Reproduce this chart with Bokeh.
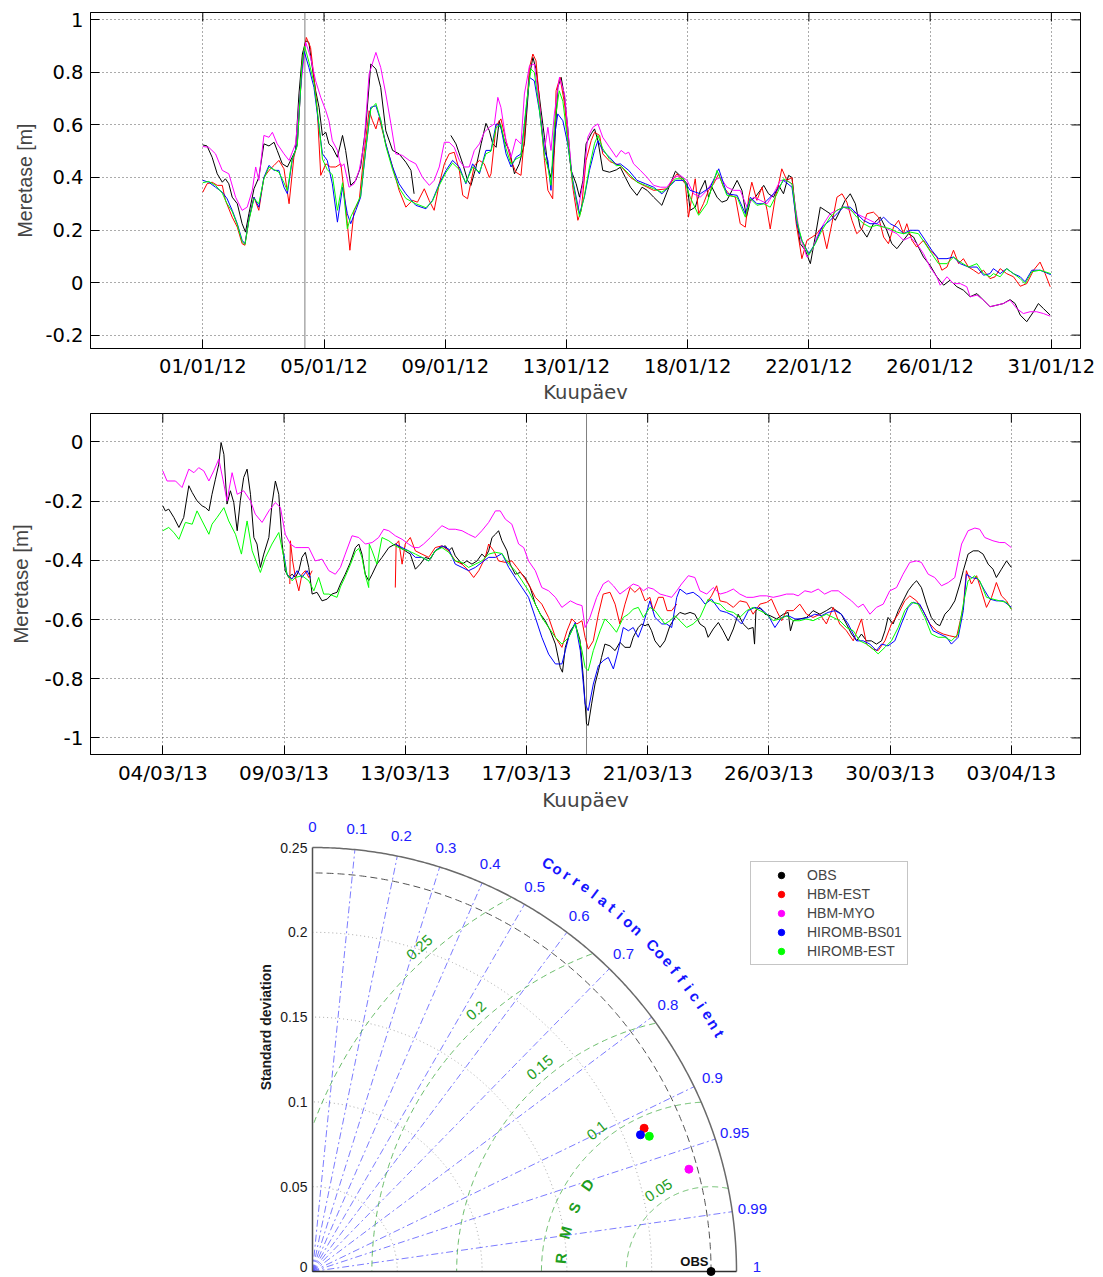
import numpy as np
from bokeh.plotting import figure
from bokeh.models import (Range1d, FixedTicker, CustomJSTickFormatter, Span, Legend, LegendItem)
from bokeh.layouts import column
from bokeh.embed import file_html
from bokeh.resources import INLINE
from bokeh.core.properties import value

NA = None

# ------------------------------------------------------------------ data
SERIES_NAMES = ["OBS", "HBM-EST", "HBM-MYO", "HIROMB-BS01", "HIROMB-EST"]
SERIES_COLORS = ["#000000", "#ff0000", "#ff00ff", "#0000ff", "#00ff00"]

SPAN_DAYS = 30
N_TICK_STEPS = 7
JAN_TICK_LABELS = ["01/01/12", "05/01/12", "09/01/12", "13/01/12",
                   "18/01/12", "22/01/12", "26/01/12", "31/01/12"]
MAR_TICK_LABELS = ["04/03/13", "09/03/13", "13/03/13", "17/03/13",
                   "21/03/13", "26/03/13", "30/03/13", "03/04/13"]
JAN_Y_TICKS = [-0.2, 0.0, 0.2, 0.4, 0.6, 0.8, 1.0]
JAN_Y_LABELS = ["-0.2", "0", "0.2", "0.4", "0.6", "0.8", "1"]
MAR_Y_TICKS = [-1.0, -0.8, -0.6, -0.4, -0.2, 0.0]
MAR_Y_LABELS = ["-1", "-0.8", "-0.6", "-0.4", "-0.2", "0"]
JAN_EVENT_DAY = 3.61
MAR_EVENT_DAY = 14.98

# January 2012 (days since 01/01/12 00:00, sea level m)
OBS_JAN = [(0.00,0.524),(0.15,0.520),(0.33,0.477),(0.51,0.414),(0.69,0.382),(0.80,0.395),(0.92,0.376),(1.04,0.325),(1.22,0.300),(1.39,0.224),(1.51,0.192),(1.63,0.262),(1.81,0.357),(1.98,0.400),(2.16,0.528),(2.34,0.520),(2.52,0.534),(2.63,0.503),(2.81,0.452),(2.99,0.440),(3.16,0.477),(3.28,0.503),(3.40,0.718),(3.52,0.870),(3.64,0.920),(3.75,0.914),(3.87,0.820),(3.99,0.730),(4.11,0.667),(4.23,0.560),(4.35,0.572),(4.46,0.528),(4.58,0.515),(4.76,0.477),(4.94,0.560),(5.05,0.503),(5.23,0.370),(5.41,0.389),(5.58,0.440),(5.76,0.591),(5.94,0.832),(6.12,0.813),(6.29,0.743),(6.47,0.578),(6.71,0.503),(6.94,0.490),(7.18,0.458),(7.36,0.427),(7.47,0.338),
           (8.00,NA),
           (8.77,0.560),(8.95,0.528),(9.19,0.452),(9.36,0.389),(9.48,0.370),(9.66,0.440),(9.84,0.528),(10.01,0.606),(10.13,0.578),(10.25,0.528),(10.37,0.515),(10.48,0.616),(10.66,0.540),(10.84,0.503),(11.02,0.414),(11.19,0.452),(11.37,0.528),(11.55,0.787),(11.67,0.857),(11.78,0.813),(11.96,0.654),(12.08,0.553),(12.20,0.440),(12.31,0.400),(12.43,0.503),(12.55,0.743),(12.67,0.781),(12.79,0.705),(12.90,0.591),(13.02,0.427),(13.20,0.376),(13.32,0.325),(13.44,0.389),(13.55,0.528),(13.73,0.566),(13.85,0.585),(13.97,0.540),(14.14,0.427),(14.38,0.420),(14.62,0.429),
           (14.76,0.439),(14.94,0.400),(15.12,0.363),(15.35,0.332),(15.53,0.363),(15.71,0.351),(15.94,0.325),(16.23,0.294),(16.41,0.344),(16.71,0.424),(16.94,0.400),(17.12,0.376),(17.23,0.275),(17.41,0.287),(17.59,0.351),(17.76,0.389),(17.88,0.325),(18.00,0.363),(18.18,0.325),(18.35,0.306),(18.53,0.313),(18.71,0.351),(18.89,0.389),(19.06,0.351),(19.22,0.249),(19.36,0.313),(19.53,0.325),(19.71,0.351),(19.83,0.370),(20.00,0.338),(20.18,0.325),(20.36,0.370),(20.53,0.338),(20.71,0.408),(20.83,0.400),(20.95,0.281),(21.12,0.148),(21.30,0.123),(21.48,0.072),(21.65,0.173),(21.83,0.287),(22.00,0.275),(22.18,0.262),(22.36,0.237),(22.54,0.275),(22.71,0.313),(22.89,0.338),(23.07,0.300),(23.24,0.211),(23.48,0.173),(23.71,0.224),(23.95,0.249),(24.18,0.199),(24.36,0.148),(24.54,0.129),(24.77,0.161),(24.95,0.186),(25.13,0.173),(25.30,0.135),(25.48,0.097),(25.71,0.066),(25.95,0.022),(26.19,-0.010),(26.42,0.009),(26.66,-0.016),(26.89,-0.029),(27.13,-0.054),(27.37,-0.042),(27.60,-0.067),(27.83,-0.092),(28.07,-0.086),(28.30,-0.080),(28.54,-0.065),(28.72,-0.080),(28.90,-0.124),(29.13,-0.149),(29.37,-0.111),(29.54,-0.080),(29.72,-0.099),(29.96,-0.124)]

HBM_EST_JAN = [(0.00,0.344),(0.15,0.376),(0.33,0.382),(0.51,0.370),(0.69,0.370),(0.80,0.313),(1.04,0.249),(1.22,0.211),(1.39,0.148),(1.49,0.142),(1.63,0.240),(1.81,0.325),(1.98,0.275),(2.16,0.400),(2.34,0.427),(2.52,0.446),(2.69,0.465),(2.87,0.433),(3.05,0.300),(3.22,0.477),(3.34,0.528),(3.52,0.844),(3.66,0.933),(3.81,0.895),(3.93,0.781),(4.05,0.654),(4.17,0.408),(4.35,0.452),(4.52,0.440),(4.70,0.440),(4.88,0.452),(4.99,0.351),(5.11,0.224),(5.20,0.123),(5.35,0.275),(5.53,0.313),(5.70,0.490),(5.88,0.654),(6.00,0.616),(6.12,0.585),(6.23,0.629),(6.35,0.578),(6.53,0.503),(6.71,0.440),(6.94,0.351),(7.18,0.287),(7.41,0.313),(7.59,0.306),(7.83,0.357),(8.00,0.313),(8.18,0.275),(8.36,0.376),(8.54,0.452),(8.71,0.490),(8.89,0.496),(9.07,0.427),(9.19,0.332),(9.36,0.319),(9.60,0.446),(9.78,0.465),(9.95,0.452),(10.13,0.400),(10.19,0.414),(10.37,0.597),(10.54,0.623),(10.72,0.540),(10.90,0.465),(11.07,0.420),(11.25,0.408),(11.37,0.553),(11.55,0.819),(11.67,0.870),(11.78,0.844),(11.96,0.616),(12.08,0.465),(12.20,0.351),(12.37,0.319),(12.49,0.730),(12.63,0.781),(12.79,0.680),(12.90,0.553),(13.08,0.363),(13.26,0.237),(13.38,0.275),(13.55,0.465),(13.73,0.540),(13.85,0.572),(14.03,0.560),(14.14,0.490),(14.40,0.460),
               (14.76,0.446),(15.12,0.400),(15.47,0.376),(15.94,0.351),(16.41,0.357),(16.76,0.414),(17.06,0.376),(17.17,0.249),(17.29,0.325),(17.41,0.395),(17.53,0.262),(17.70,0.300),(17.88,0.351),(18.06,0.376),(18.24,0.414),(18.41,0.363),(18.65,0.332),(18.83,0.325),(19.00,0.224),(19.18,0.211),(19.30,0.325),(19.41,0.382),(19.59,0.313),(19.77,0.363),(19.95,0.275),(20.06,0.204),(20.24,0.325),(20.36,0.376),(20.47,0.433),(20.65,0.389),(20.83,0.400),(20.98,0.224),(21.18,0.091),(21.36,0.161),(21.54,0.173),(21.71,0.186),(21.89,0.211),(22.06,0.129),(22.24,0.224),(22.42,0.325),(22.60,0.338),(22.77,0.306),(22.95,0.237),(23.12,0.186),(23.30,0.204),(23.48,0.262),(23.71,0.268),(23.89,0.249),(24.07,0.173),(24.24,0.148),(24.42,0.211),(24.60,0.237),(24.77,0.186),(24.89,0.224),(25.07,0.161),(25.24,0.135),(25.48,0.161),(25.71,0.123),(25.95,0.097),(26.13,0.047),(26.31,0.059),(26.54,0.123),(26.72,0.072),(26.89,0.091),(27.07,0.059),(27.25,0.047),(27.43,0.034),(27.60,0.047),(27.83,0.015),(28.01,0.022),(28.19,0.053),(28.42,0.034),(28.66,0.022),(28.90,-0.014),(29.13,-0.004),(29.37,0.047),(29.60,0.078),(29.78,0.034),(29.96,-0.016)]

HBM_MYO_JAN = [(0.00,0.518),(0.21,0.515),(0.45,0.490),(0.69,0.427),(0.92,0.414),(1.16,0.325),(1.39,0.275),(1.57,0.287),(1.75,0.351),(1.87,0.440),(1.98,0.389),(2.16,0.560),(2.34,0.553),(2.46,0.572),(2.63,0.528),(2.87,0.490),(3.05,0.465),(3.28,0.528),(3.46,0.743),(3.64,0.914),(3.81,0.857),(3.99,0.768),(4.17,0.705),(4.35,0.654),(4.46,0.616),(4.58,0.540),(4.76,0.503),(4.88,0.440),(4.99,0.452),(5.17,0.363),(5.35,0.376),(5.53,0.427),(5.70,0.528),(5.88,0.794),(6.12,0.876),(6.29,0.819),(6.47,0.718),(6.65,0.604),(6.82,0.490),(7.06,0.484),(7.30,0.465),(7.53,0.452),(7.77,0.400),(8.01,0.370),(8.18,0.389),(8.36,0.440),(8.54,0.534),(8.71,0.534),(8.89,0.515),(9.07,0.465),(9.24,0.440),(9.42,0.440),(9.60,0.503),(9.78,0.528),(9.95,0.572),(10.13,0.591),(10.31,0.604),(10.43,0.705),(10.54,0.667),(10.72,0.540),(10.90,0.477),(11.07,0.547),(11.25,0.528),(11.37,0.718),(11.55,0.825),(11.72,0.832),(11.90,0.680),(12.08,0.503),(12.20,0.591),(12.31,0.503),(12.43,0.642),(12.61,0.781),(12.79,0.718),(12.90,0.591),(13.08,0.376),(13.26,0.275),(13.44,0.376),(13.61,0.553),(13.79,0.591),(13.97,0.604),(14.14,0.553),(14.38,0.515),(14.62,0.477),(14.79,0.503),
               (14.94,0.490),(15.06,0.496),(15.23,0.452),(15.47,0.427),(15.71,0.400),(15.94,0.370),(16.18,0.363),(16.41,0.363),(16.65,0.400),(16.88,0.408),(17.12,0.389),(17.35,0.338),(17.59,0.325),(17.82,0.351),(18.06,0.389),(18.30,0.400),(18.53,0.363),(18.77,0.351),(19.00,0.351),(19.24,0.287),(19.47,0.325),(19.71,0.313),(19.95,0.300),(20.18,0.338),(20.42,0.389),(20.65,0.389),(20.83,0.376),(20.95,0.287),(21.12,0.173),(21.36,0.097),(21.54,0.123),(21.71,0.173),(21.95,0.224),(22.18,0.262),(22.42,0.275),(22.65,0.287),(22.89,0.275),(23.12,0.262),(23.36,0.249),(23.59,0.237),(23.83,0.224),(24.07,0.211),(24.30,0.199),(24.54,0.186),(24.77,0.161),(25.01,0.173),(25.24,0.148),(25.48,0.110),(25.71,0.059),(25.95,0.022),(26.07,-0.010),(26.31,0.022),(26.54,-0.004),(26.78,-0.004),(27.01,-0.016),(27.13,-0.054),(27.37,-0.048),(27.60,-0.067),(27.83,-0.092),(28.07,-0.086),(28.30,-0.080),(28.54,-0.067),(28.78,-0.099),(29.01,-0.118),(29.25,-0.111),(29.48,-0.111),(29.72,-0.118),(29.96,-0.128)]

HIROMB_BS01_JAN = [(0.00,0.389),(0.21,0.382),(0.45,0.363),(0.69,0.344),(0.86,0.319),(1.04,0.275),(1.22,0.224),(1.39,0.161),(1.49,0.148),(1.63,0.240),(1.81,0.325),(1.98,0.287),(2.16,0.400),(2.34,0.446),(2.52,0.427),(2.69,0.427),(2.87,0.363),(2.99,0.338),(3.16,0.465),(3.34,0.528),(3.50,0.806),(3.58,0.882),(3.75,0.819),(3.93,0.743),(4.11,0.591),(4.23,0.490),(4.40,0.465),(4.58,0.376),(4.76,0.230),(4.94,0.363),(5.11,0.262),(5.23,0.224),(5.41,0.275),(5.58,0.325),(5.76,0.503),(5.94,0.667),(6.12,0.673),(6.29,0.616),(6.47,0.528),(6.71,0.440),(6.94,0.376),(7.18,0.338),(7.53,0.294),(7.89,0.281),(8.12,0.313),(8.36,0.376),(8.60,0.427),(8.83,0.465),(9.07,0.440),(9.30,0.376),(9.54,0.452),(9.78,0.414),(10.01,0.503),(10.19,0.503),(10.37,0.604),(10.54,0.591),(10.72,0.490),(10.90,0.440),(11.07,0.477),(11.25,0.490),(11.43,0.654),(11.55,0.781),(11.72,0.768),(11.90,0.654),(12.08,0.503),(12.20,0.465),(12.31,0.351),(12.43,0.553),(12.55,0.642),(12.73,0.616),(12.90,0.528),(13.08,0.389),(13.32,0.262),(13.49,0.325),(13.67,0.427),(13.85,0.503),(13.97,0.540),(14.14,0.503),(14.38,0.477),(14.62,0.449),
                   (14.76,0.452),(15.06,0.427),(15.35,0.389),(15.65,0.376),(15.94,0.363),(16.23,0.338),(16.47,0.363),(16.71,0.389),(17.00,0.389),(17.23,0.351),(17.59,0.338),(17.94,0.363),(18.24,0.433),(18.53,0.338),(18.89,0.332),(19.18,0.262),(19.36,0.325),(19.59,0.300),(19.83,0.300),(20.06,0.325),(20.30,0.351),(20.53,0.389),(20.83,0.363),(21.00,0.224),(21.18,0.161),(21.42,0.110),(21.65,0.148),(21.89,0.211),(22.18,0.237),(22.42,0.262),(22.65,0.287),(22.89,0.287),(23.12,0.262),(23.36,0.237),(23.59,0.224),(23.83,0.224),(24.07,0.249),(24.30,0.224),(24.54,0.211),(24.77,0.186),(25.01,0.199),(25.30,0.199),(25.54,0.161),(25.77,0.123),(26.01,0.091),(26.31,0.091),(26.54,0.097),(26.78,0.072),(27.07,0.059),(27.37,0.059),(27.60,0.028),(27.83,0.034),(27.95,0.053),(28.19,0.034),(28.42,0.053),(28.66,0.034),(28.90,0.022),(29.07,0.003),(29.31,0.047),(29.60,0.047),(29.98,0.030)]

HIROMB_EST_JAN = [(0.00,0.380),(0.21,0.385),(0.45,0.370),(0.69,0.340),(0.86,0.300),(1.04,0.270),(1.22,0.220),(1.39,0.155),(1.49,0.145),(1.63,0.235),(1.81,0.320),(1.98,0.300),(2.16,0.395),(2.34,0.440),(2.52,0.430),(2.69,0.420),(2.87,0.380),(2.99,0.350),(3.16,0.470),(3.34,0.520),(3.50,0.820),(3.60,0.900),(3.75,0.840),(3.93,0.760),(4.11,0.600),(4.23,0.470),(4.40,0.430),(4.58,0.410),(4.76,0.275),(4.94,0.380),(5.11,0.205),(5.23,0.250),(5.41,0.290),(5.58,0.330),(5.76,0.510),(5.94,0.660),(6.12,0.682),(6.29,0.620),(6.47,0.520),(6.71,0.430),(6.94,0.360),(7.18,0.320),(7.53,0.300),(7.89,0.285),(8.12,0.310),(8.36,0.370),(8.60,0.420),(8.83,0.455),(9.07,0.430),(9.30,0.380),(9.54,0.440),(9.78,0.420),(10.01,0.490),(10.19,0.500),(10.37,0.590),(10.54,0.600),(10.72,0.510),(10.90,0.450),(11.07,0.470),(11.25,0.480),(11.43,0.670),(11.60,0.813),(11.72,0.800),(11.90,0.660),(12.08,0.480),(12.20,0.440),(12.31,0.370),(12.43,0.600),(12.60,0.730),(12.73,0.690),(12.90,0.540),(13.08,0.380),(13.32,0.250),(13.49,0.330),(13.67,0.440),(13.85,0.530),(13.97,0.560),(14.14,0.510),(14.38,0.470),(14.62,0.445),
                  (14.76,0.446),(15.06,0.414),(15.35,0.382),(15.65,0.370),(15.94,0.357),(16.23,0.344),(16.47,0.363),(16.71,0.395),(17.00,0.395),(17.23,0.325),(17.53,0.256),(17.82,0.300),(18.18,0.427),(18.53,0.332),(18.89,0.325),(19.18,0.249),(19.36,0.319),(19.59,0.294),(19.83,0.300),(20.06,0.287),(20.30,0.338),(20.53,0.395),(20.83,0.376),(21.00,0.237),(21.18,0.161),(21.42,0.104),(21.65,0.148),(21.89,0.199),(22.18,0.249),(22.42,0.275),(22.65,0.287),(22.89,0.281),(23.12,0.249),(23.36,0.224),(23.59,0.211),(23.83,0.218),(24.07,0.211),(24.30,0.205),(24.54,0.192),(24.77,0.186),(25.01,0.192),(25.30,0.186),(25.54,0.148),(25.77,0.110),(26.01,0.072),(26.31,0.072),(26.54,0.097),(26.78,0.078),(27.07,0.059),(27.37,0.072),(27.60,0.034),(27.83,0.022),(27.95,0.034),(28.19,0.022),(28.42,0.053),(28.66,0.034),(28.90,0.015),(29.07,-0.004),(29.31,0.041),(29.60,0.047),(29.98,0.034)]

# March 2013 (days since the 04/03/13 tick, sea level m)
OBS_MAR = [(0.00,-0.216),(0.09,-0.233),(0.21,-0.227),(0.39,-0.255),(0.57,-0.289),(0.74,-0.255),(0.92,-0.148),(1.04,-0.171),(1.21,-0.199),(1.39,-0.216),(1.51,-0.222),(1.63,-0.233),(1.74,-0.177),(1.86,-0.126),(1.98,-0.075),(2.06,-0.002),(2.16,-0.042),(2.27,-0.210),(2.39,-0.165),(2.51,-0.205),(2.63,-0.300),(2.74,-0.199),(2.86,-0.120),(2.98,-0.092),(3.10,-0.177),(3.22,-0.323),(3.33,-0.345),(3.45,-0.424),(3.57,-0.379),(3.75,-0.323),(3.86,-0.210),(3.98,-0.132),(4.10,-0.177),(4.22,-0.345),(4.33,-0.435),(4.45,-0.458),(4.57,-0.447),(4.69,-0.458),(4.81,-0.435),(4.92,-0.390),(5.04,-0.373),(5.16,-0.424),(5.28,-0.514),(5.45,-0.508),(5.63,-0.537),(5.81,-0.531),(5.98,-0.514),(6.16,-0.508),(6.28,-0.480),(6.45,-0.447),(6.63,-0.407),(6.81,-0.357),(6.93,-0.345),(7.04,-0.379),(7.16,-0.447),(7.28,-0.469),(7.40,-0.447),(7.57,-0.413),(7.75,-0.390),(7.99,-0.357),(8.22,-0.345),(8.40,-0.357),(8.57,-0.368),(8.75,-0.379),(8.93,-0.430),(9.10,-0.413),(9.28,-0.390),(9.46,-0.396),(9.63,-0.368),(9.81,-0.357),(9.99,-0.351),(10.11,-0.368),(10.22,-0.357),(10.34,-0.385),(10.58,-0.413),(10.75,-0.402),(10.93,-0.413),(11.11,-0.402),(11.28,-0.379),(11.40,-0.390),(11.52,-0.368),(11.64,-0.323),(11.76,-0.312),(11.87,-0.300),(11.99,-0.334),(12.17,-0.368),(12.28,-0.413),(12.46,-0.447),(12.64,-0.441),(12.81,-0.458),(12.99,-0.492),(13.17,-0.548),(13.35,-0.582),(13.52,-0.604),(13.70,-0.638),(13.88,-0.683),(14.05,-0.762),(14.13,-0.778),(14.23,-0.694),(14.41,-0.638),(14.58,-0.615),(14.75,-0.670),(14.87,-0.800),
           (14.98,-0.953),(15.04,-0.958),(15.16,-0.885),(15.28,-0.818),(15.40,-0.773),(15.51,-0.728),(15.63,-0.683),(15.81,-0.689),(15.99,-0.705),(16.16,-0.677),(16.34,-0.694),(16.52,-0.694),(16.63,-0.660),(16.81,-0.627),(16.93,-0.615),(17.05,-0.621),(17.16,-0.615),(17.28,-0.638),(17.40,-0.672),(17.58,-0.694),(17.75,-0.672),(17.93,-0.621),(18.11,-0.593),(18.28,-0.576),(18.46,-0.582),(18.64,-0.576),(18.81,-0.582),(18.99,-0.615),(19.17,-0.627),(19.28,-0.660),(19.46,-0.632),(19.64,-0.610),(19.81,-0.638),(19.99,-0.672),(20.17,-0.632),(20.34,-0.582),(20.52,-0.615),(20.70,-0.632),(20.87,-0.627),(20.92,-0.683),(20.97,-0.570),(21.11,-0.559),(21.29,-0.582),(21.47,-0.587),(21.70,-0.598),(21.94,-0.582),(22.11,-0.576),(22.19,-0.638),(22.29,-0.604),(22.52,-0.598),(22.76,-0.593),(22.99,-0.570),(23.23,-0.582),(23.46,-0.570),(23.64,-0.559),(23.82,-0.570),(23.99,-0.582),(24.17,-0.615),(24.35,-0.649),(24.53,-0.672),(24.70,-0.649),(24.88,-0.672),(25.05,-0.672),(25.23,-0.683),(25.41,-0.672),(25.53,-0.638),(25.64,-0.593),(25.82,-0.615),(26.00,-0.570),(26.17,-0.537),(26.35,-0.503),(26.53,-0.480),(26.65,-0.469),(26.82,-0.492),(27.00,-0.548),(27.17,-0.593),(27.35,-0.615),(27.47,-0.621),(27.65,-0.582),(27.82,-0.565),(28.00,-0.537),(28.18,-0.480),(28.30,-0.435),(28.47,-0.379),(28.65,-0.368),(28.83,-0.368),(29.00,-0.379),(29.18,-0.413),(29.35,-0.430),(29.47,-0.458),(29.65,-0.430),(29.83,-0.402),(30.00,-0.424)]

HBM_EST_MAR = [(4.49,-0.480),(4.51,-0.334),(4.59,-0.402),(4.69,-0.458),(4.81,-0.503),(4.92,-0.447),(5.04,-0.435),(5.16,-0.458),(5.28,-0.435),
               (6.50,NA),
               (8.22,-0.492),(8.25,-0.345),(8.34,-0.334),(8.46,-0.413),(8.57,-0.345),(8.75,-0.323),(8.93,-0.368),(9.16,-0.379),(9.40,-0.390),(9.63,-0.357),(9.87,-0.351),(10.11,-0.368),(10.34,-0.402),(10.58,-0.413),(10.81,-0.435),(10.99,-0.458),(11.17,-0.435),(11.40,-0.390),(11.52,-0.345),(11.70,-0.368),(11.87,-0.402),(12.11,-0.407),(12.34,-0.402),(12.52,-0.424),(12.70,-0.447),(12.93,-0.480),(13.17,-0.525),(13.40,-0.548),(13.64,-0.593),(13.88,-0.660),(14.11,-0.694),(14.29,-0.638),(14.46,-0.598),(14.64,-0.615),(14.82,-0.604),
               (14.93,-0.660),(15.04,-0.700),(15.22,-0.672),(15.40,-0.582),(15.57,-0.514),(15.81,-0.508),(15.99,-0.548),(16.16,-0.615),(16.34,-0.548),(16.52,-0.492),(16.69,-0.508),(16.87,-0.492),(17.05,-0.537),(17.22,-0.525),(17.34,-0.570),(17.52,-0.525),(17.69,-0.525),(17.83,-0.570),(17.99,-0.570),(18.17,-0.548),
               (18.70,NA),
               (19.28,-0.537),(19.40,-0.520),(19.58,-0.486),(19.70,-0.537),(19.93,-0.542),(20.17,-0.559),(20.40,-0.537),(20.64,-0.542),(20.87,-0.582),(21.11,-0.548),(21.35,-0.542),(21.52,-0.531),(21.70,-0.570),(21.88,-0.604),(22.05,-0.570),(22.29,-0.570),(22.52,-0.548),(22.76,-0.582),(22.99,-0.593),(23.23,-0.582),(23.46,-0.615),(23.70,-0.559),(23.93,-0.615),(24.17,-0.638),(24.41,-0.672),(24.70,-0.598),(24.88,-0.683),(25.11,-0.700),(25.29,-0.705),(25.53,-0.672),(25.76,-0.615),(26.00,-0.582),(26.23,-0.537),(26.41,-0.520),(26.65,-0.537),(26.88,-0.570),(27.12,-0.615),(27.35,-0.638),(27.59,-0.649),(27.82,-0.655),(28.06,-0.660),(28.30,-0.559),(28.41,-0.435),(28.59,-0.480),(28.77,-0.452),(28.94,-0.503),(29.12,-0.559),(29.30,-0.525),(29.47,-0.475),(29.65,-0.520),(29.83,-0.537),(30.00,-0.565)]

HBM_MYO_MAR = [(0.00,-0.098),(0.15,-0.132),(0.45,-0.132),(0.68,-0.154),(0.92,-0.092),(1.10,-0.104),(1.27,-0.087),(1.45,-0.098),(1.63,-0.132),(1.80,-0.098),(1.98,-0.058),(2.16,-0.143),(2.27,-0.199),(2.45,-0.104),(2.63,-0.177),(2.86,-0.165),(3.10,-0.199),(3.27,-0.244),(3.51,-0.272),(3.75,-0.233),(3.98,-0.205),(4.16,-0.222),(4.33,-0.312),(4.51,-0.345),(4.69,-0.357),(4.92,-0.357),(5.16,-0.357),(5.39,-0.402),(5.63,-0.396),(5.87,-0.435),(6.10,-0.447),(6.28,-0.424),(6.45,-0.379),(6.69,-0.317),(6.93,-0.323),(7.16,-0.345),(7.40,-0.340),(7.63,-0.323),(7.81,-0.295),(7.99,-0.300),(8.22,-0.317),(8.46,-0.329),(8.69,-0.345),(8.87,-0.357),(9.05,-0.357),(9.22,-0.345),(9.46,-0.323),(9.69,-0.300),(9.87,-0.283),(10.11,-0.295),(10.34,-0.295),(10.58,-0.300),(10.81,-0.312),(11.05,-0.323),(11.28,-0.300),(11.52,-0.272),(11.76,-0.233),(11.93,-0.233),(12.11,-0.261),(12.34,-0.278),(12.58,-0.345),(12.76,-0.357),(12.93,-0.402),(13.17,-0.435),(13.40,-0.492),(13.64,-0.503),(13.88,-0.525),(14.11,-0.559),(14.41,-0.537),(14.64,-0.548),(14.82,-0.553),
               (14.93,-0.627),(15.10,-0.593),(15.34,-0.525),(15.57,-0.480),(15.75,-0.469),(15.93,-0.486),(16.16,-0.514),(16.40,-0.497),(16.63,-0.480),(16.81,-0.486),(16.99,-0.503),(17.16,-0.492),(17.34,-0.497),(17.58,-0.514),(17.81,-0.520),(17.99,-0.525),(18.17,-0.503),(18.34,-0.480),(18.58,-0.452),(18.81,-0.458),(18.99,-0.503),(19.23,-0.514),(19.46,-0.492),(19.70,-0.514),(19.93,-0.508),(20.17,-0.497),(20.40,-0.514),(20.64,-0.525),(20.87,-0.525),(21.11,-0.520),(21.35,-0.520),(21.58,-0.525),(21.82,-0.520),(22.05,-0.514),(22.29,-0.514),(22.46,-0.520),(22.70,-0.503),(22.93,-0.508),(23.17,-0.497),(23.40,-0.514),(23.64,-0.503),(23.88,-0.503),(24.11,-0.520),(24.35,-0.537),(24.58,-0.559),(24.76,-0.548),(25.00,-0.582),(25.23,-0.559),(25.47,-0.548),(25.70,-0.503),(25.94,-0.492),(26.17,-0.447),(26.41,-0.407),(26.65,-0.402),(26.82,-0.407),(27.06,-0.447),(27.29,-0.458),(27.53,-0.486),(27.77,-0.475),(28.00,-0.458),(28.24,-0.345),(28.47,-0.300),(28.71,-0.291),(28.88,-0.295),(29.06,-0.323),(29.35,-0.334),(29.59,-0.340),(29.77,-0.340),(30.00,-0.357)]

HIROMB_BS01_MAR = [(4.28,-0.379),(4.39,-0.447),(4.57,-0.463),(4.75,-0.435),(4.92,-0.458),(5.10,-0.435),(5.22,-0.458),
                   (6.50,NA),
                   (8.22,-0.345),(8.46,-0.357),(8.69,-0.368),(8.93,-0.390),(9.16,-0.390),(9.40,-0.402),(9.63,-0.368),(9.87,-0.351),(10.11,-0.362),(10.34,-0.413),(10.58,-0.424),(10.81,-0.435),(11.05,-0.424),(11.28,-0.407),(11.52,-0.390),(11.76,-0.390),(11.99,-0.377),(12.23,-0.424),(12.46,-0.458),(12.70,-0.492),(12.93,-0.525),(13.17,-0.593),(13.40,-0.660),(13.64,-0.717),(13.88,-0.750),(14.11,-0.750),(14.35,-0.660),(14.58,-0.610),(14.76,-0.705),(14.87,-0.820),
                   (14.93,-0.885),(15.04,-0.908),(15.22,-0.818),(15.40,-0.756),(15.57,-0.739),(15.75,-0.728),(15.93,-0.767),(16.10,-0.705),(16.28,-0.627),(16.46,-0.638),(16.63,-0.627),(16.81,-0.660),(16.99,-0.615),(17.22,-0.537),(17.40,-0.593),(17.64,-0.615),(17.81,-0.615),(17.99,-0.627),(18.17,-0.525),(18.28,-0.497),(18.52,-0.514),(18.75,-0.508),(18.99,-0.525),(19.17,-0.548),(19.40,-0.531),(19.70,-0.570),(19.93,-0.576),(20.17,-0.587),(20.46,-0.615),(20.70,-0.570),(20.93,-0.559),(21.17,-0.565),(21.41,-0.587),(21.64,-0.627),(21.88,-0.593),(22.11,-0.587),(22.35,-0.598),(22.58,-0.598),(22.82,-0.593),(23.05,-0.582),(23.29,-0.587),(23.52,-0.576),(23.76,-0.570),(23.99,-0.582),(24.23,-0.615),(24.53,-0.672),(24.76,-0.672),(25.00,-0.683),(25.23,-0.705),(25.41,-0.683),(25.64,-0.689),(25.88,-0.672),(26.11,-0.615),(26.35,-0.559),(26.53,-0.542),(26.76,-0.548),(27.00,-0.593),(27.23,-0.638),(27.47,-0.649),(27.71,-0.660),(27.88,-0.683),(28.12,-0.660),(28.30,-0.570),(28.41,-0.447),(28.59,-0.458),(28.83,-0.463),(29.06,-0.503),(29.24,-0.531),(29.47,-0.537),(29.71,-0.537),(30.00,-0.559)]

HIROMB_EST_MAR = [(0.00,-0.300),(0.21,-0.289),(0.39,-0.306),(0.57,-0.329),(0.80,-0.272),(1.04,-0.278),(1.21,-0.233),(1.39,-0.267),(1.63,-0.312),(1.74,-0.278),(1.92,-0.255),(2.16,-0.222),(2.33,-0.267),(2.57,-0.312),(2.78,-0.379),(2.98,-0.267),(3.16,-0.368),(3.45,-0.441),(3.63,-0.390),(3.86,-0.345),(4.10,-0.306),(4.28,-0.390),(4.39,-0.447),(4.57,-0.469),(4.69,-0.458),(4.92,-0.452),(5.16,-0.469),(5.34,-0.503),(5.51,-0.458),(5.69,-0.514),(5.87,-0.514),(6.16,-0.525),(6.28,-0.490),(6.45,-0.455),(6.63,-0.415),(6.81,-0.370),(6.93,-0.360),(7.04,-0.390),(7.16,-0.450),(7.28,-0.492),(7.30,-0.345),(7.40,-0.368),(7.57,-0.413),(7.75,-0.323),(7.99,-0.334),(8.22,-0.351),(8.46,-0.362),(8.69,-0.368),(8.93,-0.379),(9.16,-0.390),(9.40,-0.402),(9.63,-0.368),(9.87,-0.357),(10.11,-0.373),(10.34,-0.402),(10.58,-0.407),(10.81,-0.424),(11.05,-0.413),(11.28,-0.402),(11.52,-0.379),(11.76,-0.373),(11.99,-0.377),(12.23,-0.413),(12.46,-0.435),(12.70,-0.469),(12.93,-0.503),(13.17,-0.548),(13.40,-0.593),(13.64,-0.627),(13.88,-0.660),(14.11,-0.683),(14.35,-0.660),(14.58,-0.615),(14.82,-0.705),
                  (14.93,-0.762),(15.04,-0.773),(15.22,-0.705),(15.46,-0.638),(15.63,-0.598),(15.81,-0.615),(16.04,-0.643),(16.28,-0.593),(16.46,-0.582),(16.63,-0.565),(16.81,-0.559),(16.99,-0.593),(17.22,-0.559),(17.40,-0.570),(17.58,-0.593),(17.75,-0.615),(17.93,-0.604),(18.11,-0.587),(18.28,-0.604),(18.52,-0.627),(18.75,-0.615),(18.99,-0.593),(19.28,-0.531),(19.46,-0.542),(19.70,-0.548),(19.93,-0.570),(20.17,-0.576),(20.40,-0.593),(20.64,-0.570),(20.87,-0.559),(21.11,-0.570),(21.35,-0.582),(21.58,-0.604),(21.82,-0.598),(22.05,-0.587),(22.29,-0.604),(22.52,-0.604),(22.76,-0.598),(22.99,-0.604),(23.23,-0.593),(23.46,-0.582),(23.70,-0.593),(23.93,-0.604),(24.17,-0.627),(24.41,-0.638),(24.64,-0.672),(24.88,-0.683),(25.11,-0.700),(25.29,-0.716),(25.53,-0.694),(25.76,-0.672),(26.00,-0.627),(26.23,-0.570),(26.47,-0.542),(26.70,-0.548),(26.94,-0.593),(27.17,-0.649),(27.41,-0.660),(27.65,-0.660),(27.88,-0.672),(28.12,-0.649),(28.30,-0.548),(28.47,-0.469),(28.71,-0.452),(28.88,-0.469),(29.12,-0.525),(29.35,-0.531),(29.59,-0.537),(29.83,-0.542),(30.00,-0.565)]

JAN_SERIES = [OBS_JAN, HBM_EST_JAN, HBM_MYO_JAN, HIROMB_BS01_JAN, HIROMB_EST_JAN]
MAR_SERIES = [OBS_MAR, HBM_EST_MAR, HBM_MYO_MAR, HIROMB_BS01_MAR, HIROMB_EST_MAR]

# Taylor diagram statistics
TAYLOR_STD = [0.235, 0.213, 0.230, 0.2095, 0.214]
TAYLOR_CORR = [1.0, 0.918, 0.965, 0.923, 0.928]
STD_MAX = 0.25
STD_TICKS = [0.0, 0.05, 0.10, 0.15, 0.20, 0.25]
STD_TICK_LABELS = ["0", "0.05", "0.1", "0.15", "0.2", "0.25"]
STD_GRID = [0.05, 0.10, 0.15, 0.20]
CORR_TICKS = [0.0, 0.1, 0.2, 0.3, 0.4, 0.5, 0.6, 0.7, 0.8, 0.9, 0.95, 0.99, 1.0]
CORR_TICK_LABELS = ["0", "0.1", "0.2", "0.3", "0.4", "0.5", "0.6", "0.7", "0.8",
                    "0.9", "0.95", "0.99", "1"]
RMS_LEVELS = [0.05, 0.10, 0.15, 0.20, 0.25]
RMS_LABELS = ["0.05", "0.1", "0.15", "0.2", "0.25"]

# ------------------------------------------------------------------ layout constants
FRAME_LEFT, FRAME_W, RIGHT_PAD = 90, 990, 23
TICK_LEN = 9


def split(series):
    a = np.array(series, dtype=float)
    return a[:, 0], a[:, 1]


def make_ts(fh, bt, bb, xr, yr, xlabels, yticks, ylabels,
            tick_fs, ylab_fs, ylab_standoff, series, event_day):
    p = figure(frame_width=FRAME_W, frame_height=fh, min_border_left=FRAME_LEFT,
               min_border_right=RIGHT_PAD, min_border_top=bt, min_border_bottom=bb,
               x_range=Range1d(*xr), y_range=Range1d(*yr),
               output_backend="svg", toolbar_location=None)
    xticks = [i * SPAN_DAYS / N_TICK_STEPS for i in range(N_TICK_STEPS + 1)]
    xt = FixedTicker(ticks=xticks)
    yt = FixedTicker(ticks=yticks)
    xa = p.xaxis[0]
    ya = p.yaxis[0]
    xa.ticker = xt
    ya.ticker = yt
    xa.formatter = CustomJSTickFormatter(args=dict(labels=xlabels), code="return labels[index];")
    ya.formatter = CustomJSTickFormatter(args=dict(labels=ylabels), code="return labels[index];")
    p.xgrid[0].ticker = xt
    p.ygrid[0].ticker = yt
    for ax in (xa, ya):
        ax.major_tick_in = TICK_LEN
        ax.major_tick_out = 0
        ax.minor_tick_line_color = None
        ax.axis_line_color = "#000000"
        ax.major_tick_line_color = "#000000"
        ax.major_label_text_font = "DejaVu Sans"
        ax.major_label_text_font_size = tick_fs
        ax.major_label_text_color = "#000000"
    xa.major_label_standoff = 6
    ya.major_label_standoff = 7
    xa.axis_label = "Kuupäev"
    xa.axis_label_text_font = "DejaVu Sans"
    xa.axis_label_text_font_size = tick_fs
    xa.axis_label_text_font_style = "normal"
    xa.axis_label_standoff = 0
    ya.axis_label = "Meretase [m]"
    ya.axis_label_text_font = "Liberation Sans"
    ya.axis_label_text_font_size = ylab_fs
    ya.axis_label_text_font_style = "normal"
    ya.axis_label_standoff = ylab_standoff
    p.grid.grid_line_color = "#3a3a3a"
    p.grid.grid_line_dash = "1 3"
    p.grid.grid_line_alpha = 0.85
    p.outline_line_color = "#000000"
    # inward ticks on the top and right sides of the box
    dx = TICK_LEN * (xr[1] - xr[0]) / FRAME_W
    dy = TICK_LEN * (yr[1] - yr[0]) / fh
    p.segment(x0=xticks, y0=[yr[1]] * len(xticks), x1=xticks, y1=[yr[1] - dy] * len(xticks),
              line_color="#000000", line_width=1)
    p.segment(x0=[xr[1]] * len(yticks), y0=yticks, x1=[xr[1] - dx] * len(yticks), y1=yticks,
              line_color="#000000", line_width=1)
    p.add_layout(Span(location=event_day, dimension="height", line_color="#7f7f7f",
                      line_width=1, level="underlay"))
    for s, c in zip(series, SERIES_COLORS):
        t, v = split(s)
        p.line(t, v, line_color=c, line_width=1)
    return p


# panel 1: frame 12..348 ; panel 2: frame 413..754
p1 = make_ts(336, 12, 60, (-3.97, 31.03), (-0.251, 1.028),
             JAN_TICK_LABELS, JAN_Y_TICKS, JAN_Y_LABELS,
             "19.5px", "19.5px", 6, JAN_SERIES, JAN_EVENT_DAY)
p2 = make_ts(341, 5, 61, (-2.556, 32.444), (-1.056, 0.096),
             MAR_TICK_LABELS, MAR_Y_TICKS, MAR_Y_LABELS,
             "20px", "20.5px", 9, MAR_SERIES, MAR_EVENT_DAY)

# ------------------------------------------------------------------ Taylor diagram
H3 = 1277 - (12 + 336 + 60) - (5 + 341 + 61)
K = 1696.0                 # px per std unit
OX = 222.0                 # origin, px from frame left
OY = 456.0                 # origin, px from frame top
x0 = -OX / K
y0 = -(H3 - OY) / K
p3 = figure(frame_width=FRAME_W, frame_height=H3, min_border_left=FRAME_LEFT,
            min_border_right=RIGHT_PAD, min_border_top=0, min_border_bottom=0,
            x_range=Range1d(x0, x0 + FRAME_W / K), y_range=Range1d(y0, y0 + H3 / K),
            x_axis_location=None, y_axis_location=None,
            output_backend="svg", toolbar_location=None)
p3.grid.visible = False
p3.outline_line_color = None

FONT = value("Liberation Sans")
th = np.linspace(0, np.pi / 2, 300)

for r in STD_GRID:
    p3.line(r * np.cos(th), r * np.sin(th), line_color="#a8a8a8", line_dash="1 3", line_width=1)

for c in CORR_TICKS[1:-1]:
    a = np.arccos(c)
    p3.line([0, STD_MAX * np.cos(a)], [0, STD_MAX * np.sin(a)],
            line_color="#5050ff", line_alpha=0.75, line_dash="7 3 2 3", line_width=1)

r_obs = TAYLOR_STD[0]
ph = np.linspace(0, np.pi, 600)
for rr in RMS_LEVELS:
    xs = r_obs + rr * np.cos(ph)
    ys = rr * np.sin(ph)
    bad = (xs < 0) | (xs ** 2 + ys ** 2 > STD_MAX ** 2)
    xs[bad] = np.nan
    ys[bad] = np.nan
    p3.line(xs, ys, line_color="#4caf4c", line_alpha=0.85, line_dash="6 4", line_width=1)

p3.line(r_obs * np.cos(th), r_obs * np.sin(th), line_color="#505050", line_dash="7 4", line_width=1)

p3.line(STD_MAX * np.cos(th), STD_MAX * np.sin(th), line_color="#6a6a6a", line_width=1.5)
p3.line([0, 0], [0, STD_MAX], line_color="#505050", line_width=1.5)
p3.line([0, STD_MAX], [0, 0], line_color="#303030", line_width=1.5)

# labels sitting on the bottom edge are nudged up so they stay inside the picture
std_nudge = [-5 if t == 0 else 0 for t in STD_TICKS]
p3.text(x=[-0.003] * len(STD_TICKS), y=STD_TICKS, text=STD_TICK_LABELS, y_offset=std_nudge,
        text_font=FONT, text_font_size="14px", text_color="#1a1a1a",
        text_align="right", text_baseline="middle")
p3.text(x=[-0.0272], y=[STD_MAX * 0.576], text=["Standard deviation"], angle=[np.pi / 2],
        text_font=FONT, text_font_size="14px", text_font_style="bold", text_color="#1a1a1a",
        text_align="center", text_baseline="middle")

r_lab = 0.262
ca = np.arccos(np.array(CORR_TICKS))
corr_nudge = [-5 if c == 1.0 else 0 for c in CORR_TICKS]
p3.text(x=list(r_lab * np.cos(ca)), y=list(r_lab * np.sin(ca)), text=CORR_TICK_LABELS,
        y_offset=corr_nudge, text_font=FONT, text_font_size="15px", text_color="#2020ff",
        text_align="center", text_baseline="middle")

title = "Correlation Coefficient"
angs = np.radians(np.linspace(60, 30.3, len(title)))
p3.text(x=list(0.278 * np.cos(angs)), y=list(0.278 * np.sin(angs)), text=list(title),
        angle=list(angs - np.pi / 2), text_font=FONT, text_font_size="15px",
        text_font_style="bold", text_color="#1515ff",
        text_align="center", text_baseline="middle")

lab_ang = np.radians([123, 129, 130, 132, 132])
lr = np.array(RMS_LEVELS) + 0.007
p3.text(x=list(r_obs + lr * np.cos(lab_ang)), y=list(lr * np.sin(lab_ang)), text=RMS_LABELS,
        angle=list(lab_ang - np.pi / 2), text_font=FONT, text_font_size="15px",
        text_color="#1e9e1e", text_align="center", text_baseline="middle")
rm_ang = np.radians([175, 165, 155, 145])
p3.text(x=list(r_obs + 0.089 * np.cos(rm_ang)), y=list(0.089 * np.sin(rm_ang)),
        text=["R", "M", "S", "D"], angle=list(rm_ang - np.pi / 2), text_font=FONT,
        text_font_size="15px", text_font_style="bold", text_color="#1e9e1e",
        text_align="center", text_baseline="middle")

items = []
for name, s, c, col in zip(SERIES_NAMES, TAYLOR_STD, TAYLOR_CORR, SERIES_COLORS):
    px = s * c
    py = s * np.sqrt(max(0.0, 1 - c * c))
    r = p3.scatter([px], [py], size=8, fill_color=col, line_color=col, marker="circle")
    items.append(LegendItem(label=name, renderers=[r]))

p3.text(x=[TAYLOR_STD[0] - 0.0015], y=[0.0015], text=["OBS"], text_font=FONT,
        text_font_size="13px", text_font_style="bold", text_color="#111111",
        text_align="right", text_baseline="bottom")

# legend box: left edge 660 px into the frame, bottom edge 312 px above the frame bottom
legend = Legend(items=items, location=(660, 312), border_line_color="#8c8c8c",
                border_line_width=1, background_fill_color="white", background_fill_alpha=1,
                label_text_font="Liberation Sans", label_text_font_size="14px",
                glyph_width=50, glyph_height=16, label_height=16, spacing=3,
                padding=5, margin=0, label_standoff=1)
p3.add_layout(legend)

layout = column(p1, p2, p3)
open("out.html", "w").write(file_html(layout, INLINE))
